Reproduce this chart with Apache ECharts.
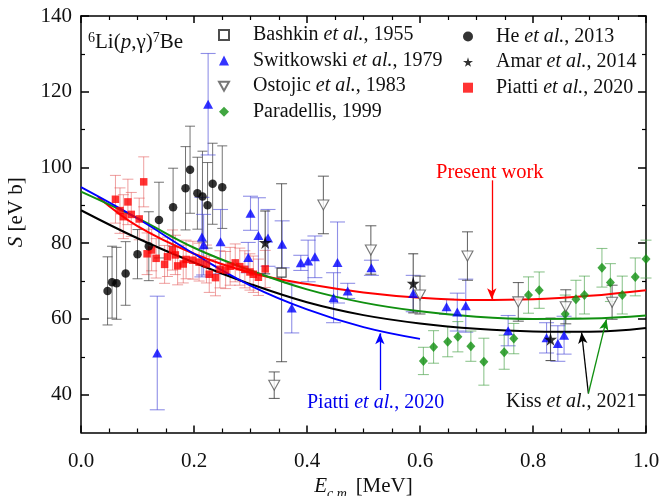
<!DOCTYPE html>
<html>
<head>
<meta charset="utf-8">
<script src="https://cdn.jsdelivr.net/npm/echarts@6/dist/echarts.min.js"></script>
<style>
  html, body { margin: 0; padding: 0; background: #fff; }
  #chart { width: 659px; height: 496px; }
</style>
</head>
<body>
<div id="chart"></div>
<script>
// ---- Measured S-factors, 6Li(p,gamma)7Be : energy [MeV], S [eV b], error ----
const bashkinE = [0.355];
const bashkinS = [72.2];
const bashkinErr = [23.5];

const switE = [0.135, 0.214, 0.217, 0.225, 0.247, 0.296, 0.300, 0.314, 0.331, 0.356, 0.373, 0.389, 0.402,
               0.414, 0.447, 0.454, 0.472, 0.514, 0.588, 0.647, 0.666, 0.681, 0.756, 0.824, 0.844, 0.855];
const switS = [51.0, 81.6, 79.6, 116.7, 80.4, 76.2, 87.9, 82.0, 81.4, 79.7, 62.9, 74.8, 75.3,
               76.4, 65.6, 74.9, 67.4, 73.5, 66.7, 63.2, 61.8, 63.5, 56.9, 55.0, 53.5, 55.7];
const switErr = [15.0, 10.5, 8.0, 13.4, 8.5, 4.0, 4.5, 10.0, 7.5, 6.2, 6.6, 2.0, 5.5,
                 5.5, 6.6, 10.7, 2.0, 2.0, 4.8, 2.0, 5.0, 7.0, 4.0, 4.0, 4.7, 5.0];

const ostE = [0.342, 0.429, 0.513, 0.600, 0.684, 0.774, 0.858, 0.940];
const ostS = [42.5, 90.1, 78.2, 66.3, 76.6, 64.5, 63.2, 64.4];
const ostErr = [3.5, 7.6, 6.4, 5.0, 6.4, 5.1, 4.5, 4.5];

const parE = [0.606, 0.624, 0.649, 0.667, 0.690, 0.713, 0.749, 0.766, 0.792, 0.811, 0.857, 0.876,
              0.891, 0.922, 0.937, 0.958, 0.981, 1.000];
const parS = [48.9, 52.6, 54.0, 55.3, 52.8, 48.7, 51.2, 54.8, 66.3, 67.6, 61.3, 65.2,
              66.3, 73.5, 69.6, 66.3, 71.1, 75.8];
const parErr = [3.6, 4.3, 4.0, 4.0, 4.0, 6.2, 4.5, 4.0, 4.8, 4.8, 5.0, 5.0,
                5.0, 5.1, 5.0, 5.0, 5.0, 5.0];

const heE = [0.047, 0.055, 0.063, 0.079, 0.100, 0.120, 0.138, 0.163, 0.185, 0.193, 0.206, 0.215, 0.224, 0.233, 0.250];
const heS = [67.4, 69.7, 69.4, 72.0, 77.1, 79.2, 86.1, 89.5, 94.5, 99.4, 93.2, 92.3, 90.0, 95.7, 94.8];
const heErr = [9.0, 9.5, 9.5, 8.4, 6.5, 9.1, 10.0, 10.3, 11.0, 11.5, 9.5, 12.0, 11.3, 10.7, 10.9];

const amarE = [0.326, 0.588, 0.831];
const amarS = [80.2, 69.4, 54.6];
const amarErr = [8.3, 7.8, 5.6];

const piattiE = [0.061, 0.069, 0.075, 0.083, 0.089, 0.103, 0.111, 0.117, 0.125, 0.133, 0.148, 0.153,
                 0.162, 0.167, 0.171, 0.181, 0.186, 0.198, 0.209, 0.222, 0.227, 0.238, 0.246, 0.256,
                 0.264, 0.273, 0.281, 0.290, 0.299, 0.305, 0.314, 0.326];
const piattiS = [91.6, 88.6, 87.0, 90.9, 87.6, 86.4, 96.2, 77.2, 78.2, 76.0, 74.4, 76.4,
                 78.2, 76.9, 74.0, 74.5, 75.7, 75.5, 75.0, 74.5, 71.8, 70.9, 73.1, 72.9,
                 73.9, 74.8, 73.8, 73.1, 72.4, 71.8, 71.0, 73.2];
const piattiErr = [6.3, 6.0, 5.8, 6.0, 5.8, 5.5, 6.6, 5.5, 5.5, 5.2, 5.0, 5.2,
                   5.3, 5.2, 5.0, 5.0, 5.1, 5.0, 5.0, 5.0, 4.8, 4.8, 4.9, 4.9,
                   5.0, 5.0, 4.9, 4.9, 4.8, 4.8, 4.8, 4.9];

// ---- Model curves ----
const presentE = [0.03, 0.1, 0.2, 0.3, 0.4, 0.5, 0.6, 0.7, 0.8, 0.9, 1.0];
const presentS = [92.2, 84.5, 77.2, 72.2, 69.2, 67.0, 65.6, 65.0, 65.2, 66.1, 67.6];

const kissE = [0, 0.1, 0.2, 0.3, 0.4, 0.5, 0.6, 0.7, 0.8, 0.9, 1.0];
const kissBlackS = [88.7, 81.3, 74.9, 69.2, 64.4, 61.0, 58.8, 57.4, 56.7, 56.6, 57.6];
const kissGreenS = [93.6, 86.6, 78.8, 72.8, 67.8, 64.3, 62.0, 60.6, 60.0, 60.1, 60.9];

const piattiFitE = [0, 0.1, 0.2, 0.3, 0.4, 0.5, 0.6];
const piattiFitS = [94.8, 86.5, 77.2, 68.8, 62.5, 57.8, 54.7];

// ---- Axis ticks ----
const yMajorTicks = [40, 60, 80, 100, 120, 140];
const yMinorTicks = [50, 70, 90, 110, 130];

const FONT = "'Liberation Serif', 'Times New Roman', serif";
const INK = '#111';

const pairs = (E, S) => E.map((e, i) => [e, S[i]]);

function errorBars(E, S, err, color, cap, width) {
  return {
    type: 'custom',
    silent: true,
    z: 1,
    encode: { x: 0, y: [1, 2] },
    data: E.map((e, i) => [e, S[i] - err[i], S[i] + err[i]]),
    renderItem: function (params, api) {
      const x = api.value(0);
      const lo = api.coord([x, api.value(1)]);
      const hi = api.coord([x, api.value(2)]);
      const h = cap / 2;
      const style = { stroke: color, lineWidth: width };
      return {
        type: 'group',
        children: [
          { type: 'line', shape: { x1: hi[0], y1: hi[1], x2: lo[0], y2: lo[1] }, style: style },
          { type: 'line', shape: { x1: hi[0] - h, y1: hi[1], x2: hi[0] + h, y2: hi[1] }, style: style },
          { type: 'line', shape: { x1: lo[0] - h, y1: lo[1], x2: lo[0] + h, y2: lo[1] }, style: style }
        ]
      };
    }
  };
}

const STAR = 'path://M50,0L61,35L98,35L68,57L79,91L50,70L21,91L32,57L2,35L39,35Z';
const DOWN_TRI = 'path://M0,0L10,0L5,9Z';

function curve(name, E, S, color, width, arrows) {
  const s = {
    type: 'line', name: name, data: pairs(E, S), smooth: 0.4, showSymbol: false, silent: true,
    lineStyle: { color: color, width: width }, itemStyle: { color: color }, z: 3
  };
  if (arrows) {
    s.markLine = {
      silent: true, symbol: ['none', 'arrow'], symbolSize: [7, 11], animation: false,
      label: { show: false },
      lineStyle: { color: color, width: 1.3, type: 'solid' },
      data: arrows
    };
  }
  return s;
}

// Serif text styles used through rich-text fragments
const serif = (size, extra) => Object.assign({ fontFamily: FONT, fontSize: size, color: INK }, extra || {});
const legendRich = {
  n: serif(20, { lineHeight: 20 }),
  it: serif(20, { lineHeight: 20, fontStyle: 'italic' })
};
const legendFormatter = name => {
  const k = name.indexOf('et al.');
  if (k < 0) return '{n|' + name + '}';
  return '{n|' + name.slice(0, k) + '}{it|et al.}{n|' + name.slice(k + 6) + '}';
};

const chart = echarts.init(document.getElementById('chart'), null, { renderer: 'canvas' });

chart.setOption({
  animation: false,
  backgroundColor: '#fff',
  textStyle: { fontFamily: FONT },
  grid: { left: 81, top: 16, width: 565, height: 416.5, containLabel: false, outerBoundsMode: 'none' },
  xAxis: [
    {
      type: 'value', min: 0, max: 1, interval: 0.2,
      axisLine: { lineStyle: { color: '#000', width: 1.5 } },
      axisTick: { inside: true, length: 7, lineStyle: { color: '#000', width: 1.5 } },
      minorTick: { show: true, splitNumber: 4, length: 4, lineStyle: { color: '#000', width: 1.2 } },
      splitLine: { show: false },
      axisLabel: {
        margin: 18, fontFamily: FONT, fontSize: 21, color: INK,
        formatter: v => '{t|' + v.toFixed(1) + '}', rich: { t: serif(21) }
      },
      name: '{i|E}{sub|c.m.}{n| [MeV]}', nameLocation: 'middle', nameGap: 35,
      nameTextStyle: {
        fontFamily: FONT, fontSize: 21, color: INK,
        rich: {
          i: serif(21, { fontStyle: 'italic' }),
          n: serif(21),
          sub: serif(14, { fontStyle: 'italic', padding: [14, 0, 0, 0] })
        }
      }
    },
    {
      type: 'value', min: 0, max: 1, interval: 0.2, position: 'top',
      axisLine: { lineStyle: { color: '#000', width: 1.5 } },
      axisTick: { inside: true, length: 7, lineStyle: { color: '#000', width: 1.5 } },
      minorTick: { show: true, splitNumber: 4, length: 4, lineStyle: { color: '#000', width: 1.2 } },
      splitLine: { show: false }, axisLabel: { show: false }
    }
  ],
  yAxis: [
    {
      type: 'value', min: 30, max: 140, interval: 10,
      axisLine: { show: true, lineStyle: { color: '#000', width: 1.5 } },
      axisTick: { inside: true, length: 8, customValues: yMajorTicks, lineStyle: { color: '#000', width: 1.5 } },
      splitLine: { show: false },
      axisLabel: {
        margin: 9, fontFamily: FONT, fontSize: 21, color: INK, customValues: yMajorTicks,
        formatter: v => '{t|' + v + '}', rich: { t: serif(21) }
      },
      name: '{i|S}{n| [eV b]}', nameLocation: 'middle', nameGap: 54, nameRotate: 90,
      nameTextStyle: {
        fontFamily: FONT, fontSize: 21, color: INK, padding: [0, 0, 0, 24],
        rich: { i: serif(21, { fontStyle: 'italic' }), n: serif(21) }
      }
    },
    {
      type: 'value', min: 30, max: 140, interval: 10, position: 'left',
      axisLine: { show: false },
      axisTick: { inside: true, length: 4, customValues: yMinorTicks, lineStyle: { color: '#000', width: 1.2 } },
      splitLine: { show: false }, axisLabel: { show: false }
    },
    {
      type: 'value', min: 30, max: 140, interval: 10, position: 'right',
      axisLine: { show: true, lineStyle: { color: '#000', width: 1.5 } },
      axisTick: { inside: true, length: 8, customValues: yMajorTicks, lineStyle: { color: '#000', width: 1.5 } },
      splitLine: { show: false }, axisLabel: { show: false }
    },
    {
      type: 'value', min: 30, max: 140, interval: 10, position: 'right',
      axisLine: { show: false },
      axisTick: { inside: true, length: 4, customValues: yMinorTicks, lineStyle: { color: '#000', width: 1.2 } },
      splitLine: { show: false }, axisLabel: { show: false }
    }
  ],
  legend: [
    {
      orient: 'vertical', left: 213, top: 20, itemWidth: 10, itemHeight: 10, itemGap: 5.6, itemTextGap: 6,
      selectedMode: false, formatter: legendFormatter,
      textStyle: { fontFamily: FONT, fontSize: 20, color: INK, lineHeight: 20, padding: [0, 0, 0, 19], rich: legendRich },
      data: ['Bashkin et al., 1955', 'Switkowski et al., 1979', 'Ostojic et al., 1983', 'Paradellis, 1999']
    },
    {
      orient: 'vertical', left: 458, top: 21.5, itemWidth: 10, itemHeight: 10, itemGap: 5.6, itemTextGap: 6,
      selectedMode: false, formatter: legendFormatter,
      textStyle: { fontFamily: FONT, fontSize: 20, color: INK, lineHeight: 20, padding: [0, 0, 0, 18], rich: legendRich },
      data: ['He et al., 2013', 'Amar et al., 2014', 'Piatti et al., 2020']
    }
  ],
  graphic: [
    {
      type: 'text', left: 88, top: 31,
      style: {
        text: '{sup|6}Li({it|p},γ){sup|7}Be', fontFamily: FONT, fontSize: 21, fill: INK,
        rich: {
          sup: { fontFamily: FONT, fontSize: 14, fill: INK, padding: [0, 0, 9, 0] },
          it: { fontFamily: FONT, fontSize: 21, fontStyle: 'italic', fill: INK }
        }
      }
    },
    { type: 'text', left: 436, top: 162, style: { text: 'Present work', fontFamily: FONT, fontSize: 20.5, fill: '#ff0000' } },
    {
      type: 'text', left: 307, top: 393,
      style: {
        text: 'Piatti {it|et al.}, 2020', fontFamily: FONT, fontSize: 20, fill: '#0000ee',
        rich: { it: { fontFamily: FONT, fontSize: 20, fontStyle: 'italic', fill: '#0000ee' } }
      }
    },
    {
      type: 'text', left: 506, top: 392,
      style: {
        text: 'Kiss {it|et al.}, 2021', fontFamily: FONT, fontSize: 20, fill: INK,
        rich: { it: { fontFamily: FONT, fontSize: 20, fontStyle: 'italic', fill: INK } }
      }
    }
  ],
  series: [
    errorBars(piattiE, piattiS, piattiErr, 'rgba(225,80,80,0.55)', 11, 1),
    errorBars(heE, heS, heErr, 'rgba(70,70,70,0.75)', 10, 1),
    errorBars(switE, switS, switErr, 'rgba(70,70,215,0.6)', 15, 1.1),
    errorBars(parE, parS, parErr, 'rgba(70,160,70,0.6)', 11, 1.1),
    errorBars(ostE, ostS, ostErr, 'rgba(60,60,60,0.75)', 11, 1.1),
    errorBars(amarE, amarS, amarErr, 'rgba(50,50,50,0.8)', 10, 1.1),
    errorBars(bashkinE, bashkinS, bashkinErr, 'rgba(60,60,60,0.75)', 11, 1.1),

    curve('Present work', presentE, presentS, '#ff0000', 2, [
      [{ coord: [0.727, 96.6] }, { coord: [0.727, 65.2] }]
    ]),
    curve('Kiss black', kissE, kissBlackS, '#000000', 2, [
      [{ coord: [0.898, 40.3] }, { coord: [0.886, 56.4] }]
    ]),
    curve('Kiss green', kissE, kissGreenS, '#109010', 2, [
      [{ coord: [0.898, 40.3] }, { coord: [0.930, 59.9] }]
    ]),
    curve('Piatti fit', piattiFitE, piattiFitS, '#0000ff', 1.8, [
      [{ coord: [0.529, 41.2] }, { coord: [0.529, 56.2] }]
    ]),

    {
      type: 'scatter', name: 'Piatti et al., 2020', data: pairs(piattiE, piattiS), symbol: 'rect',
      symbolSize: 7.5, itemStyle: { color: '#ff0000' }, z: 5
    },
    {
      type: 'scatter', name: 'He et al., 2013', data: pairs(heE, heS), symbol: 'circle',
      symbolSize: 8.5, itemStyle: { color: '#000' }, z: 5
    },
    {
      type: 'scatter', name: 'Switkowski et al., 1979', data: pairs(switE, switS), symbol: 'triangle',
      symbolSize: [10, 9], itemStyle: { color: '#0000ff' }, z: 5
    },
    {
      type: 'scatter', name: 'Paradellis, 1999', data: pairs(parE, parS), symbol: 'diamond',
      symbolSize: [9, 10], itemStyle: { color: '#109010' }, z: 5
    },
    {
      type: 'scatter', name: 'Ostojic et al., 1983', data: pairs(ostE, ostS), symbol: DOWN_TRI,
      symbolSize: [11, 10], itemStyle: { color: '#fff', borderColor: '#555', borderWidth: 1.1 }, z: 5
    },
    {
      type: 'scatter', name: 'Amar et al., 2014', data: pairs(amarE, amarS), symbol: STAR,
      symbolSize: 13, itemStyle: { color: '#000' }, z: 6
    },
    {
      type: 'scatter', name: 'Bashkin et al., 1955', data: pairs(bashkinE, bashkinS), symbol: 'rect',
      symbolSize: 9, itemStyle: { color: '#fff', borderColor: '#222', borderWidth: 1.2 }, z: 6
    }
  ]
});
</script>
</body>
</html>
